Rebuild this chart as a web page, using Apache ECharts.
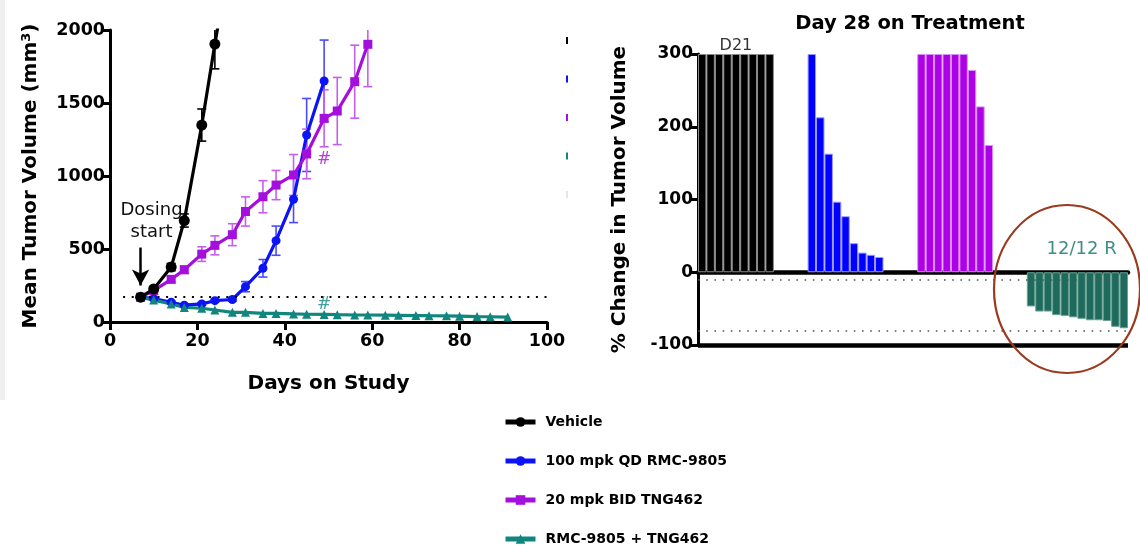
<!DOCTYPE html>
<html>
<head>
<meta charset="utf-8">
<script src="https://cdn.jsdelivr.net/npm/echarts@6/dist/echarts.min.js"></script>
<style>html,body{margin:0;padding:0;background:#fff;}#c{width:1140px;height:551px;}</style>
</head>
<body>
<div id="c"></div>
<script>
// ---------- Left panel: mean tumor volume ----------
const vehDays = [7, 10, 14, 17, 21, 24, 28];
const vehVol  = [170, 226, 376, 695, 1349, 1904, 2600];
const vehErr  = [5, 10, 25, 45, 110, 170, 0];

const rmcDays = [7, 10, 14, 17, 21, 24, 28, 31, 35, 38, 42, 45, 49];
const rmcVol  = [170, 160, 135, 115, 124, 146, 154, 242, 368, 557, 841, 1281, 1651];
const rmcErr  = [5, 8, 8, 8, 10, 10, 12, 35, 60, 100, 160, 250, 280];

const tngDays = [7, 10, 14, 17, 21, 24, 28, 31, 35, 38, 42, 45, 49, 52, 56, 59];
const tngVol  = [170, 215, 292, 358, 465, 525, 598, 757, 858, 938, 1007, 1151, 1395, 1445, 1646, 1902];
const tngErr  = [5, 10, 20, 25, 50, 65, 75, 100, 110, 100, 140, 170, 195, 230, 250, 290];

const comboDays = [7, 10, 14, 17, 21, 24, 28, 31, 35, 38, 42, 45, 49, 52, 56, 59, 63, 66, 70, 73, 77, 80, 84, 87, 91];
const comboVol  = [170, 150, 123, 100, 94, 82, 66, 66, 59, 59, 55, 53, 52, 50, 48, 48, 47, 46, 44, 43, 42, 40, 37, 36, 34];

const seriesNames = ['Vehicle', '100 mpk QD RMC-9805', '20 mpk BID TNG462', 'RMC-9805 + TNG462'];
const xTicks = [0, 20, 40, 60, 80, 100];
const yTicks = [0, 500, 1000, 1500, 2000];
const baselineVol = 170;
const dosingDay = 7;
const hashMarks = [{day: 49, vol: 1110, who: 2}, {day: 49, vol: 122, who: 3}];

// ---------- Right panel: % change at day 28 ----------
const vehBars   = [300, 300, 300, 300, 300, 300, 300, 300, 300];
const rmcBars   = [300, 213, 163, 97, 77, 40, 27, 24, 21];
const tngBars   = [300, 300, 300, 300, 300, 300, 278, 228, 175];
const comboBars = [-47, -54, -54, -59, -60, -62, -64, -66, -66, -67, -75, -77];
const groupGap = 4;
const pctTicks = [-100, 0, 100, 200, 300];
const refLines = [-10, -80];

const colors = ['#000000', '#0A14F5', '#A40FDC', '#11867F'];
const barColors = ['#000000', '#0000FF', '#AE00E6', '#1E6A5C'];
const barBorders = ['#8a8a8a', '#9a9aff', '#d890f4', '#6aa294'];
const errColors = ['#000000', '#4a4aff', '#c560ee', '#11867F'];

const FONT = 'DejaVu Sans';

// build bar category layout
const groups = [vehBars, rmcBars, tngBars, comboBars];
const cats = [];
const barSeriesData = groups.map(() => []);
groups.forEach((g, gi) => {
  if (gi > 0) for (let k = 0; k < groupGap; k++) { cats.push('gap' + gi + '_' + k); barSeriesData.forEach(a => a.push('-')); }
  g.forEach((v, i) => { cats.push('g' + gi + '_' + i); barSeriesData.forEach((a, ai) => a.push(ai === gi ? v : '-')); });
});
const startIdx = gi => { let s = 0; for (let k = 0; k < gi; k++) s += groups[k].length + groupGap; return s; };

function pairs(xs, ys) { return xs.map((x, i) => [x, ys[i]]); }
function triples(xs, ys, es) { return xs.map((x, i) => [x, ys[i], es[i]]); }

function errRender(color) {
  return function (params, api) {
    const x = api.value(0), y = api.value(1), e = api.value(2);
    if (!e) return null;
    const t = api.coord([x, y + e]), b = api.coord([x, y - e]);
    const w = 4.5;
    const st = {stroke: color, lineWidth: 1.6};
    return {type: 'group', children: [
      {type: 'line', shape: {x1: t[0], y1: t[1], x2: b[0], y2: b[1]}, style: st},
      {type: 'line', shape: {x1: t[0] - w, y1: t[1], x2: t[0] + w, y2: t[1]}, style: st},
      {type: 'line', shape: {x1: b[0] - w, y1: b[1], x2: b[0] + w, y2: b[1]}, style: st}
    ]};
  };
}

const lineData = [pairs(vehDays, vehVol), pairs(rmcDays, rmcVol), pairs(tngDays, tngVol), pairs(comboDays, comboVol)];
const errData = [triples(vehDays, vehVol, vehErr), triples(rmcDays, rmcVol, rmcErr), triples(tngDays, tngVol, tngErr)];
const symbols = ['circle', 'circle', 'rect', 'triangle'];
const symSizes = [11, 9, 9, 9];

const series = [];
errData.forEach((d, i) => {
  series.push({type: 'custom', xAxisIndex: 0, yAxisIndex: 0, data: d, renderItem: errRender(errColors[i]), clip: true, z: 1, silent: true});
});
lineData.forEach((d, i) => {
  const s = {
    name: seriesNames[i], type: 'line', xAxisIndex: 0, yAxisIndex: 0, data: d,
    symbol: symbols[i], symbolSize: symSizes[i], showAllSymbol: true, clip: true,
    lineStyle: {color: colors[i], width: 3.2}, itemStyle: {color: colors[i]}, z: 3 + (i === 0 ? 1 : 0)
  };
  if (i === 0) {
    s.markLine = {
      silent: true, symbol: ['none', 'arrow'], symbolSize: [13, 16], label: {show: false},
      lineStyle: {color: '#000', width: 2.5, type: 'solid'},
      data: [[{coord: [dosingDay, 510]}, {coord: [dosingDay, 250]}]]
    };
    s.markPoint = {
      silent: true, symbol: 'circle', symbolSize: 1, itemStyle: {color: 'rgba(0,0,0,0)'},
      label: {show: true, position: 'inside', formatter: 'Dosing\nstart', color: '#111', fontFamily: FONT, fontSize: 18, lineHeight: 22},
      data: [{coord: [9.5, 692]}]
    };
  }
  if (i === 3) {
    s.markLine = {
      silent: true, symbol: ['none', 'none'], label: {show: false},
      lineStyle: {color: '#000', width: 2, type: [2, 6.6]},
      data: [[{coord: [3, baselineVol]}, {coord: [100, baselineVol]}]]
    };
  }
  series.push(s);
});
// hash annotations
hashMarks.forEach(h => {
  series.push({type: 'scatter', xAxisIndex: 0, yAxisIndex: 0, data: [[h.day, h.vol]], symbolSize: 1, silent: true,
    itemStyle: {color: 'rgba(0,0,0,0)'},
    label: {show: true, position: 'inside', formatter: '#', color: colors[h.who], fontFamily: FONT, fontSize: 17}, z: 5});
});

// bar series
barSeriesData.forEach((d, i) => {
  const s = {
    type: 'bar', xAxisIndex: 1, yAxisIndex: 1, data: d, barGap: '-100%', barCategoryGap: '0%',
    itemStyle: {color: barColors[i], borderColor: barBorders[i], borderWidth: 1}, silent: true, z: 2
  };
  if (i === 0) {
    s.markPoint = {
      symbol: 'circle', symbolSize: 1, itemStyle: {color: 'rgba(0,0,0,0)'},
      label: {show: true, position: 'top', distance: 0, formatter: 'D21', color: '#333', fontFamily: FONT, fontSize: 16},
      data: [{coord: [startIdx(0) + 4, 300]}]
    };
  }
  if (i === 3) {
    s.markPoint = {
      symbol: 'circle', symbolSize: 1, itemStyle: {color: 'rgba(0,0,0,0)'},
      label: {show: true, position: 'inside', formatter: '12/12 R', color: '#3F8E86', fontFamily: FONT, fontSize: 18},
      data: [{coord: [startIdx(3) + 6, 32]}]
    };
    s.markLine = {
      silent: true, symbol: ['none', 'none'], label: {show: false},
      data: refLines.map(v => ({yAxis: v, lineStyle: {color: '#555', width: 1.6, type: [1.6, 6.6]}}))
        .concat([{yAxis: pctTicks[0], lineStyle: {color: '#000', width: 4.5, type: 'solid'}}])
    };
  }
  series.push(s);
});

const plain = v => String(v);
const axisLab = {color: '#000', fontFamily: FONT, fontWeight: 'bold', fontSize: 17.5, formatter: plain};
const stubColors = ['#000000', '#0A14F5', '#A40FDC', '#11867F', '#e6e6e6'];
const stubs = stubColors.map((c, i) => ({type: 'rect', left: 566, top: 37 + i * 38.5, shape: {width: 2, height: 7}, style: {fill: c}, silent: true}));

const option = {
  animation: false,
  backgroundColor: '#fff',
  title: {
    text: 'Day 28 on Treatment', left: 905, top: 9, textAlign: 'center',
    textStyle: {fontFamily: FONT, fontWeight: 'bold', fontSize: 19.5, color: '#000'}
  },
  legend: {
    data: seriesNames, orient: 'vertical', left: 503, top: 414, width: 400, height: 200, padding: 0,
    itemWidth: 30, itemHeight: 12, itemGap: 23,
    lineStyle: {width: 5},
    textStyle: {fontFamily: FONT, fontWeight: 'bold', fontSize: 14, color: '#000', padding: [0, 0, 0, 5], lineHeight: 16},
    selectedMode: false
  },
  grid: [
    {left: 110, right: 1140 - 547, top: 30, bottom: 551 - 322},
    {left: 698, right: 1140 - 1128, top: 54, bottom: 551 - 345}
  ],
  xAxis: [
    {
      type: 'value', gridIndex: 0, min: xTicks[0], max: xTicks[xTicks.length - 1], interval: 20,
      splitLine: {show: false},
      axisLine: {show: true, onZero: false, lineStyle: {color: '#000', width: 3}},
      axisTick: {show: true, length: 8, lineStyle: {color: '#000', width: 3}},
      axisLabel: Object.assign({margin: 10}, axisLab),
      name: 'Days on Study', nameLocation: 'middle', nameGap: 52,
      nameTextStyle: {fontFamily: FONT, fontWeight: 'bold', fontSize: 20, color: '#000'}
    },
    {
      type: 'category', gridIndex: 1, data: cats,
      axisLine: {show: true, onZero: true, lineStyle: {color: '#000', width: 4.5}},
      axisTick: {show: false}, axisLabel: {show: false}, splitLine: {show: false}
    }
  ],
  yAxis: [
    {
      type: 'value', gridIndex: 0, min: yTicks[0], max: yTicks[yTicks.length - 1], interval: 500,
      splitLine: {show: false},
      axisLine: {show: true, lineStyle: {color: '#000', width: 3}},
      axisTick: {show: true, length: 8, lineStyle: {color: '#000', width: 3}},
      axisLabel: Object.assign({margin: 5}, axisLab),
      name: 'Mean Tumor Volume (mm{sup|3})', nameLocation: 'middle', nameGap: 69, nameRotate: 90,
      nameTextStyle: {fontFamily: FONT, fontWeight: 'bold', fontSize: 20, color: '#000',
        rich: {sup: {fontFamily: FONT, fontWeight: 'bold', fontSize: 13, verticalAlign: 'top', padding: [0, 0, 8, 0]}}}
    },
    {
      type: 'value', gridIndex: 1, min: pctTicks[0], max: pctTicks[pctTicks.length - 1], interval: 100,
      splitLine: {show: false},
      axisLine: {show: true, lineStyle: {color: '#000', width: 3}},
      axisTick: {show: true, length: 8, lineStyle: {color: '#000', width: 3}},
      axisLabel: Object.assign({margin: 5}, axisLab, {fontSize: 17}),
      name: '% Change in Tumor Volume', nameLocation: 'middle', nameGap: 68, nameRotate: 90,
      nameTextStyle: {fontFamily: FONT, fontWeight: 'bold', fontSize: 20, color: '#000'}
    }
  ],
  graphic: [
    {type: 'rect', left: 0, top: 0, shape: {width: 5, height: 400}, style: {fill: '#efefef'}, silent: true},
    {type: 'ellipse', shape: {cx: 1067, cy: 289, rx: 73, ry: 84}, style: {fill: 'none', stroke: '#9A3A1E', lineWidth: 2.2}, z: 100, silent: true}
  ].concat(stubs),
  series: series
};

const chart = echarts.init(document.getElementById('c'), null, {renderer: 'canvas'});
chart.setOption(option);
</script>
</body>
</html>
